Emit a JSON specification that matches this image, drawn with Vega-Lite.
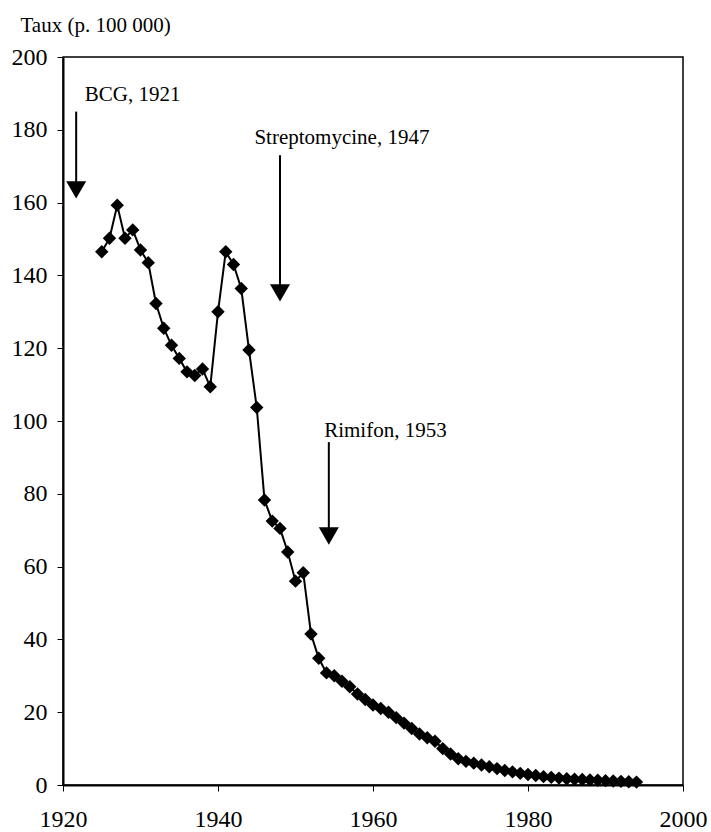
{
  "$schema": "https://vega.github.io/schema/vega-lite/v6.json",
  "width": 620,
  "height": 728,
  "autosize": {"type": "none"},
  "padding": {"left": 63, "top": 57, "right": 28, "bottom": 47},
  "background": "white",
  "config": {
    "view": {"stroke": "black", "strokeWidth": 1.5},
    "font": "Liberation Serif",
    "axis": {
      "labelFont": "Liberation Serif",
      "titleFont": "Liberation Serif",
      "labelColor": "black",
      "titleColor": "black",
      "domainColor": "black",
      "domainWidth": 2,
      "tickColor": "black",
      "tickSize": 6,
      "tickWidth": 1,
      "grid": false,
      "labelFontSize": 24,
      "labelFlush": false,
      "labelOverlap": false
    }
  },
  "datasets": {
    "series": [
      {"year": 1925, "rate": 146.5}, {"year": 1926, "rate": 150.2}, {"year": 1927, "rate": 159.3},
      {"year": 1928, "rate": 150.2}, {"year": 1929, "rate": 152.5}, {"year": 1930, "rate": 147},
      {"year": 1931, "rate": 143.5}, {"year": 1932, "rate": 132.3}, {"year": 1933, "rate": 125.5},
      {"year": 1934, "rate": 120.8}, {"year": 1935, "rate": 117.2}, {"year": 1936, "rate": 113.5},
      {"year": 1937, "rate": 112.5}, {"year": 1938, "rate": 114.3}, {"year": 1939, "rate": 109.4},
      {"year": 1940, "rate": 130}, {"year": 1941, "rate": 146.5}, {"year": 1942, "rate": 143},
      {"year": 1943, "rate": 136.4}, {"year": 1944, "rate": 119.5}, {"year": 1945, "rate": 103.7},
      {"year": 1946, "rate": 78.3}, {"year": 1947, "rate": 72.5}, {"year": 1948, "rate": 70.5},
      {"year": 1949, "rate": 64}, {"year": 1950, "rate": 56}, {"year": 1951, "rate": 58.3},
      {"year": 1952, "rate": 41.5}, {"year": 1953, "rate": 34.8}, {"year": 1954, "rate": 30.8},
      {"year": 1955, "rate": 30}, {"year": 1956, "rate": 28.5}, {"year": 1957, "rate": 27},
      {"year": 1958, "rate": 25}, {"year": 1959, "rate": 23.5}, {"year": 1960, "rate": 22},
      {"year": 1961, "rate": 21}, {"year": 1962, "rate": 20}, {"year": 1963, "rate": 18.5},
      {"year": 1964, "rate": 17}, {"year": 1965, "rate": 15.5}, {"year": 1966, "rate": 14},
      {"year": 1967, "rate": 13}, {"year": 1968, "rate": 12}, {"year": 1969, "rate": 10},
      {"year": 1970, "rate": 8.5}, {"year": 1971, "rate": 7.2}, {"year": 1972, "rate": 6.5},
      {"year": 1973, "rate": 6}, {"year": 1974, "rate": 5.5}, {"year": 1975, "rate": 5},
      {"year": 1976, "rate": 4.5}, {"year": 1977, "rate": 4}, {"year": 1978, "rate": 3.6},
      {"year": 1979, "rate": 3.2}, {"year": 1980, "rate": 2.9}, {"year": 1981, "rate": 2.6},
      {"year": 1982, "rate": 2.3}, {"year": 1983, "rate": 2.1}, {"year": 1984, "rate": 1.9},
      {"year": 1985, "rate": 1.7}, {"year": 1986, "rate": 1.6}, {"year": 1987, "rate": 1.5},
      {"year": 1988, "rate": 1.4}, {"year": 1989, "rate": 1.3}, {"year": 1990, "rate": 1.2},
      {"year": 1991, "rate": 1.1}, {"year": 1992, "rate": 1.0}, {"year": 1993, "rate": 0.9},
      {"year": 1994, "rate": 0.8}
    ],
    "notes": [
      {"label": "BCG, 1921", "tx": 1922.8, "ty": 189.5, "ax": 1921.7, "ytop": 185, "ytri": 163.5},
      {"label": "Streptomycine, 1947", "tx": 1944.7, "ty": 177.7, "ax": 1948, "ytop": 173, "ytri": 135.2},
      {"label": "Rimifon, 1953", "tx": 1953.7, "ty": 97.3, "ax": 1954.3, "ytop": 94.2, "ytri": 68.4}
    ]
  },
  "layer": [
    {
      "data": {"name": "series"},
      "mark": {"type": "line", "color": "black", "strokeWidth": 2},
      "encoding": {
        "x": {
          "field": "year", "type": "quantitative",
          "scale": {"domain": [1920, 2000], "nice": false, "zero": false},
          "axis": {"values": [1920, 1940, 1960, 1980, 2000], "format": "d", "title": null, "labelPadding": 16}
        },
        "y": {
          "field": "rate", "type": "quantitative",
          "scale": {"domain": [0, 200], "nice": false},
          "axis": {
            "values": [0, 20, 40, 60, 80, 100, 120, 140, 160, 180, 200],
            "title": "Taux (p. 100 000)",
            "titleAngle": 0,
            "titleAlign": "left",
            "titleBaseline": "middle",
            "titleX": -43,
            "titleY": -32,
            "titleFontSize": 21,
            "titleFontWeight": "normal",
            "labelPadding": 10
          }
        }
      }
    },
    {
      "data": {"name": "series"},
      "mark": {"type": "point", "shape": "diamond", "filled": true, "color": "black", "size": 180, "opacity": 1},
      "encoding": {
        "x": {"field": "year", "type": "quantitative"},
        "y": {"field": "rate", "type": "quantitative"}
      }
    },
    {
      "data": {"name": "notes"},
      "mark": {"type": "rule", "color": "black", "strokeWidth": 2},
      "encoding": {
        "x": {"field": "ax", "type": "quantitative"},
        "y": {"field": "ytop", "type": "quantitative"},
        "y2": {"field": "ytri"}
      }
    },
    {
      "data": {"name": "notes"},
      "mark": {"type": "point", "shape": "triangle-down", "filled": true, "color": "black", "size": 400, "opacity": 1},
      "encoding": {
        "x": {"field": "ax", "type": "quantitative"},
        "y": {"field": "ytri", "type": "quantitative"}
      }
    },
    {
      "data": {"name": "notes"},
      "mark": {"type": "text", "align": "left", "baseline": "middle", "fontSize": 21, "font": "Liberation Serif", "color": "black"},
      "encoding": {
        "x": {"field": "tx", "type": "quantitative"},
        "y": {"field": "ty", "type": "quantitative"},
        "text": {"field": "label"}
      }
    }
  ]
}
